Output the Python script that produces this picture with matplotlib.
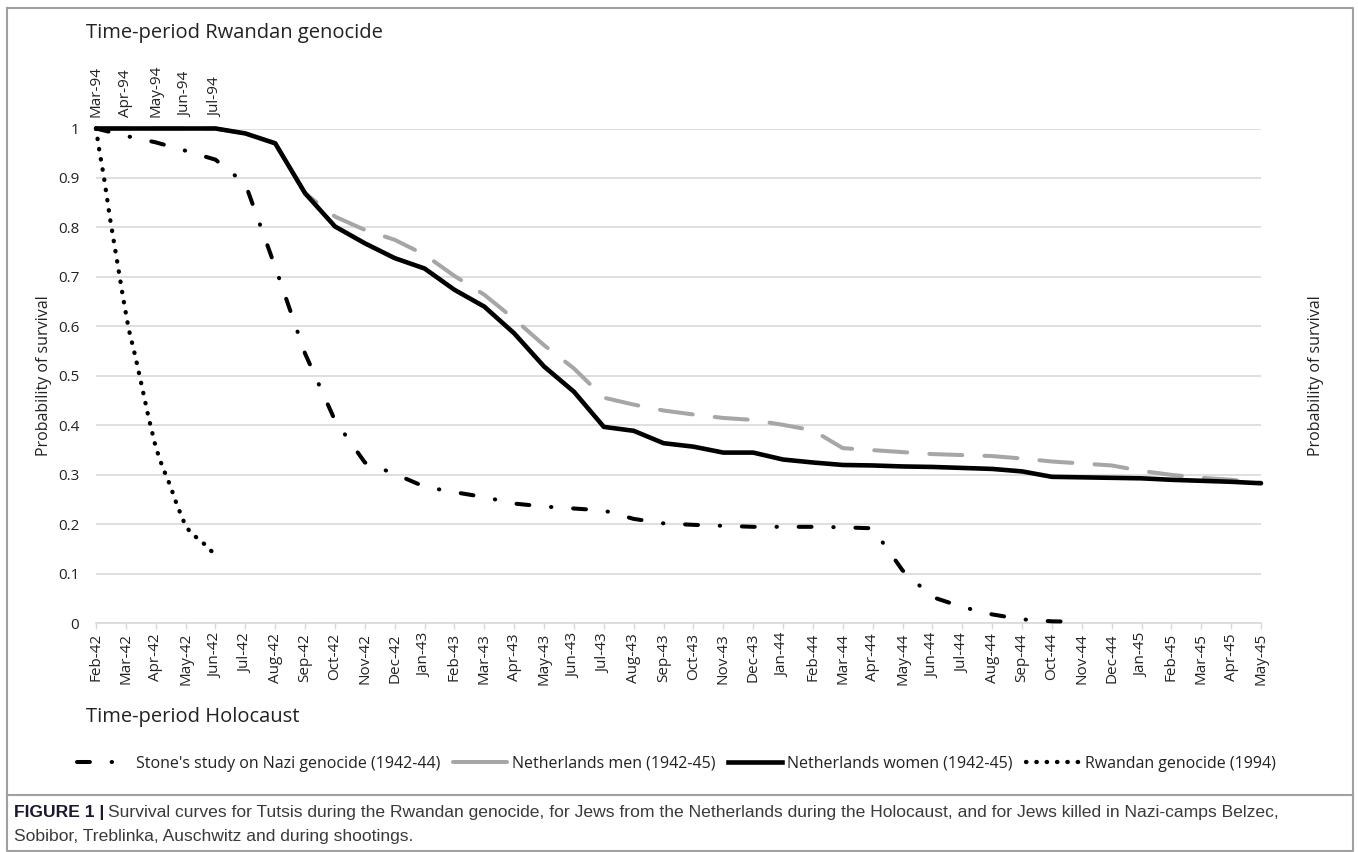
import matplotlib
matplotlib.use("Agg")
import matplotlib.pyplot as plt
from matplotlib.lines import Line2D

# ---- data ----
months = ['Feb-42', 'Mar-42', 'Apr-42', 'May-42', 'Jun-42', 'Jul-42', 'Aug-42', 'Sep-42',
          'Oct-42', 'Nov-42', 'Dec-42', 'Jan-43', 'Feb-43', 'Mar-43', 'Apr-43', 'May-43',
          'Jun-43', 'Jul-43', 'Aug-43', 'Sep-43', 'Oct-43', 'Nov-43', 'Dec-43', 'Jan-44',
          'Feb-44', 'Mar-44', 'Apr-44', 'May-44', 'Jun-44', 'Jul-44', 'Aug-44', 'Sep-44',
          'Oct-44', 'Nov-44', 'Dec-44', 'Jan-45', 'Feb-45', 'Mar-45', 'Apr-45', 'May-45']

rwanda_months = ['Mar-94', 'Apr-94', 'May-94', 'Jun-94', 'Jul-94']

# Stone's study, Feb-42 .. Nov-44
stone = [1.0, 0.985, 0.972, 0.955, 0.937, 0.888, 0.72, 0.545, 0.41, 0.325,
         0.302, 0.276, 0.265, 0.255, 0.242, 0.236, 0.232, 0.228, 0.211, 0.202,
         0.199, 0.197, 0.195, 0.195, 0.195, 0.194, 0.192, 0.107, 0.053, 0.033,
         0.018, 0.008, 0.004, 0.003]

men = [1.0, 1.0, 1.0, 1.0, 1.0, 0.99, 0.97, 0.869, 0.822, 0.795,
       0.775, 0.745, 0.702, 0.664, 0.615, 0.562, 0.515, 0.456, 0.442, 0.430,
       0.422, 0.415, 0.411, 0.401, 0.390, 0.354, 0.350, 0.346, 0.342, 0.340,
       0.338, 0.333, 0.327, 0.323, 0.319, 0.308, 0.300, 0.294, 0.290, 0.284]

women = [1.0, 1.0, 1.0, 1.0, 1.0, 0.99, 0.97, 0.869, 0.802, 0.768,
         0.738, 0.717, 0.674, 0.640, 0.586, 0.519, 0.468, 0.397, 0.389, 0.364,
         0.357, 0.345, 0.345, 0.331, 0.325, 0.320, 0.319, 0.317, 0.316, 0.314,
         0.312, 0.307, 0.296, 0.295, 0.294, 0.293, 0.290, 0.288, 0.286, 0.283]

# Rwandan genocide: months since Mar-94 (top axis) and survival
rw_t = [0.0, 0.10, 0.27, 0.47, 0.69, 0.91, 1.09, 1.33, 1.55, 1.76,
        2.00, 2.22, 2.48, 2.70, 2.95, 3.12, 3.37, 3.63, 3.88]
rw_s = [1.0, 0.96, 0.90, 0.818, 0.738, 0.657, 0.596, 0.536, 0.475, 0.416,
        0.356, 0.317, 0.279, 0.241, 0.204, 0.187, 0.173, 0.160, 0.145]

W, H = 1358, 852
fig = plt.figure(figsize=(W / 100, H / 100), dpi=100)
plt.rcParams['font.family'] = ['Open Sans', 'DejaVu Sans']
TXT = '#222222'

def fx(px):
    return px / W

def fy(py):
    return 1 - py / H

ax = fig.add_axes([fx(96), fy(623.3), fx(1261) - fx(96), fy(128.5) - fy(623.3)])
ax.set_xlim(0, len(months) - 1)
ax.set_ylim(0, 1)

lw = 2.9
dashdot = (0, (3.2, 5.4, 0.1, 5.4))
dotted = (0, (0.1, 2.3))
ax.plot(range(len(men)), men, color='#A6A6A6', lw=lw, linestyle=(0, (8.2, 5.5)),
        dash_capstyle='round', clip_on=False, zorder=3)
ax.plot(range(len(women)), women, color='black', lw=3.3, solid_capstyle='round',
        clip_on=False, zorder=4)
ax.plot(range(len(stone)), stone, color='black', lw=lw, linestyle=dashdot,
        dash_capstyle='round', clip_on=False, zorder=4)

ax.set_yticks([i / 10 for i in range(11)])
ax.yaxis.set_major_formatter(plt.FuncFormatter(lambda v, p: '%g' % round(v, 1)))
ax.grid(axis='y', color='#D9D9D9', lw=1.2)
ax.set_axisbelow(True)
for s in ['top', 'left', 'right']:
    ax.spines[s].set_visible(False)
ax.spines['bottom'].set_color('#D9D9D9')
ax.spines['bottom'].set_linewidth(1.2)
ax.set_xticks(range(len(months)))
ax.set_xticklabels(months, rotation=90, fontsize=11)
ax.tick_params(axis='x', length=4, width=1, color='#D9D9D9', pad=3, labelcolor=TXT)
ax.tick_params(axis='y', length=0, labelsize=11, labelright=True, pad=12, labelcolor=TXT)
ax.set_ylabel('Probability of survival', fontsize=11.5, labelpad=4, color=TXT)

axr = ax.twinx()
axr.set_ylim(0, 1)
axr.set_yticks([])
for s in axr.spines.values():
    s.set_visible(False)
axr.set_ylabel('Probability of survival', fontsize=11.5, labelpad=34, color=TXT)

ax2 = ax.twiny()
ax2.set_xlim(ax.get_xlim())
for s in ax2.spines.values():
    s.set_visible(False)
ax2.set_xticks(range(len(rwanda_months)))
ax2.set_xticklabels(rwanda_months, rotation=90, fontsize=11)
ax2.tick_params(axis='x', length=0, pad=8, labelcolor=TXT)
ax2.plot(rw_t, rw_s, color='black', lw=3.1, linestyle=dotted,
         dash_capstyle='round', clip_on=False, zorder=5)

fig.text(fx(86), fy(33), 'Time-period Rwandan genocide', fontsize=14.5, va='center', color=TXT)
fig.text(fx(86), fy(717), 'Time-period Holocaust', fontsize=14.5, va='center', color=TXT)

handles = [
    Line2D([], [], color='black', lw=lw, linestyle=dashdot, dash_capstyle='round'),
    Line2D([], [], color='#A6A6A6', lw=lw, solid_capstyle='round'),
    Line2D([], [], color='black', lw=3.3),
    Line2D([], [], color='black', lw=3.1, linestyle=dotted, dash_capstyle='round'),
]
labels = ["Stone's study on Nazi genocide (1942-44)", 'Netherlands men (1942-45)',
          'Netherlands women (1942-45)', 'Rwandan genocide (1994)']
fig.legend(handles, labels, loc='center', bbox_to_anchor=(fx(676), fy(764)), ncol=4,
           frameon=False, fontsize=11.5, handlelength=3.4, handletextpad=0.3,
           columnspacing=0.8, labelcolor=TXT)

# frame round the figure and separator above the caption
frame = '#A0A0A0'
fig.add_artist(Line2D([fx(7), fx(1353), fx(1353), fx(7), fx(7)],
                      [fy(8), fy(8), fy(851), fy(851), fy(8)], color=frame, lw=1.5,
                      transform=fig.transFigure))
fig.add_artist(Line2D([fx(7), fx(1353)], [fy(795), fy(795)], color=frame, lw=1.5,
                      transform=fig.transFigure))

cap_font = ['Liberation Sans', 'DejaVu Sans']
cap_size = 12.6
t_bold = fig.text(fx(14), fy(813), 'FIGURE 1 |', fontsize=cap_size, fontweight='bold',
                  family=cap_font, va='center', color='#1a1a2e')
r = fig.canvas.get_renderer()
bb = t_bold.get_window_extent(renderer=r)
fig.text(bb.x1 / W + fx(4), fy(813),
         'Survival curves for Tutsis during the Rwandan genocide, for Jews from the '
         'Netherlands during the Holocaust, and for Jews killed in Nazi-camps Belzec,',
         fontsize=cap_size, family=cap_font, va='center', color='#3a3a3a')
fig.text(fx(14), fy(836), 'Sobibor, Treblinka, Auschwitz and during shootings.',
         fontsize=cap_size, family=cap_font, va='center', color='#3a3a3a')

fig.savefig('out.png', dpi=100)
